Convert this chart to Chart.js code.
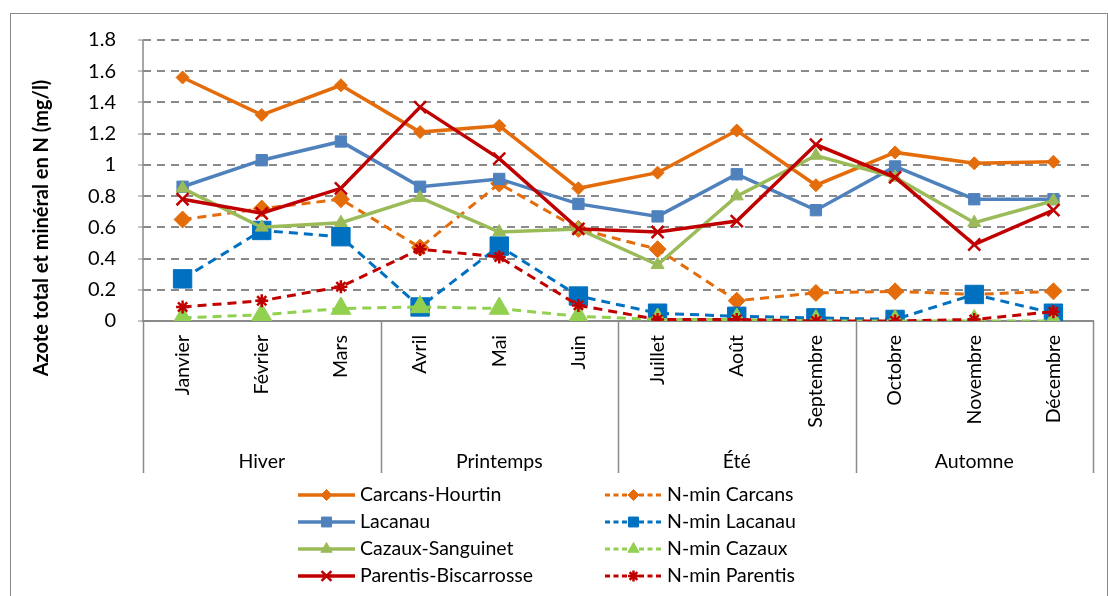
<!DOCTYPE html>
<html>
<head>
<meta charset="utf-8">
<script src="https://cdn.jsdelivr.net/npm/chart.js@4.4.1/dist/chart.umd.min.js"></script>
<style>
  html, body { margin: 0; padding: 0; background: #fff; overflow: hidden; }
</style>
</head>
<body>
<canvas id="myChart" width="1108" height="596"></canvas>
<script>
const ctx = document.getElementById('myChart');

// months, seasons (groups of 3 months)
const months = ['Janvier', 'Février', 'Mars', 'Avril', 'Mai', 'Juin', 'Juillet', 'Août', 'Septembre', 'Octobre', 'Novembre', 'Décembre'];
const seasons = ['Hiver', 'Printemps', 'Été', 'Automne'];
const yMin = 0, yMax = 1.8, yStep = 0.2;

// total nitrogen (mg/l)
const carcansHourtin = [1.56, 1.32, 1.51, 1.21, 1.25, 0.85, 0.95, 1.22, 0.87, 1.08, 1.01, 1.02];
const lacanau = [0.86, 1.03, 1.15, 0.86, 0.91, 0.75, 0.67, 0.94, 0.71, 0.99, 0.78, 0.78];
const cazauxSanguinet = [0.85, 0.60, 0.63, 0.79, 0.57, 0.59, 0.36, 0.80, 1.06, 0.92, 0.63, 0.77];
const parentisBiscarrosse = [0.78, 0.69, 0.85, 1.37, 1.04, 0.59, 0.57, 0.64, 1.13, 0.92, 0.49, 0.71];
// mineral nitrogen (mg/l)
const nminCarcans = [0.65, 0.72, 0.78, 0.47, 0.88, 0.59, 0.46, 0.13, 0.18, 0.19, 0.17, 0.19];
const nminLacanau = [0.27, 0.58, 0.54, 0.09, 0.48, 0.16, 0.05, 0.03, 0.02, 0.01, 0.17, 0.05];
const nminCazaux = [0.02, 0.04, 0.08, 0.09, 0.08, 0.03, 0.01, 0.01, 0.0, 0.0, 0.0, 0.0];
const nminParentis = [0.09, 0.13, 0.22, 0.46, 0.41, 0.10, 0.01, 0.01, 0.0, 0.0, 0.01, 0.06];

const fontFamily = 'Lato, "Liberation Sans", sans-serif';
const font = { family: fontFamily, size: 19.5 };
const gridGrey = '#8a8a8a';

function makeSeries(label, data, color, dashed, style, radius, legendRadius) {
  const strokeOnly = style === 'crossRot' || style === 'star';
  return {
    label: label,
    data: data,
    borderColor: color,
    backgroundColor: color,
    pointBackgroundColor: color,
    pointBorderColor: color,
    borderWidth: dashed ? 3 : 3.5,
    borderDash: dashed ? [9, 6] : [],
    pointStyle: style,
    pointRadius: radius,
    pointHoverRadius: radius,
    pointBorderWidth: strokeOnly ? 2.5 : 1,
    legendRadius: legendRadius,
    tension: 0,
    fill: false
  };
}

const datasets = [
  makeSeries('Carcans-Hourtin', carcansHourtin, '#E46C0A', false, 'rectRot', 6.5, 5.5),
  makeSeries('N-min Carcans', nminCarcans, '#E46C0A', true, 'rectRot', 8.5, 5.5),
  makeSeries('Lacanau', lacanau, '#4F81BD', false, 'rect', 8, 7),
  makeSeries('N-min Lacanau', nminLacanau, '#0070C0', true, 'rect', 13, 7),
  makeSeries('Cazaux-Sanguinet', cazauxSanguinet, '#9BBB59', false, 'triangle', 7.5, 6.5),
  makeSeries('N-min Cazaux', nminCazaux, '#92D050', true, 'triangle', 11.5, 6.5),
  makeSeries('Parentis-Biscarrosse', parentisBiscarrosse, '#C00000', false, 'crossRot', 8.5, 7),
  makeSeries('N-min Parentis', nminParentis, '#C00000', true, 'star', 6.5, 5.5)
];
// later series drawn on top, like the original
datasets.forEach((d, i) => { d.order = datasets.length - i; });

const extras = {
  id: 'extras',
  beforeDraw(chart) {
    const c = chart.ctx;
    c.save();
    c.fillStyle = '#fff';
    c.fillRect(0, 0, chart.width, chart.height);
    c.strokeStyle = '#888';
    c.lineWidth = 1;
    c.strokeRect(10.5, 13.5, 1097, 620);
    c.restore();
  },
  afterDraw(chart) {
    const c = chart.ctx;
    const area = chart.chartArea;
    const x = chart.scales.x;
    const x2 = chart.scales.x2;

    // left axis line and season separators through the category rows
    c.save();
    c.strokeStyle = gridGrey;
    c.lineWidth = 1.5;
    c.beginPath();
    c.moveTo(area.left, area.top);
    c.lineTo(area.left, area.bottom);
    c.stroke();
    for (let i = 0; i <= months.length; i += 3) {
      const px = Math.round(x.getPixelForValue(i - 0.5)) + 0.5;
      c.beginPath();
      c.moveTo(px, area.bottom);
      c.lineTo(px, x2.bottom);
      c.stroke();
    }
    c.restore();

    // y axis title
    c.save();
    c.translate(42, area.top + 188);
    c.rotate(-Math.PI / 2);
    c.fillStyle = '#000';
    c.font = 'bold 20px ' + fontFamily;
    c.textAlign = 'center';
    c.textBaseline = 'middle';
    c.fillText('Azote total et minéral en N (mg/l)', 0, 0);
    c.restore();

    // legend, two columns
    const colX = [298, 605];
    const rowY = 495, rowH = 27, sample = 57;
    chart.data.datasets.forEach((ds, i) => {
      const x0 = colX[i % 2];
      const y0 = rowY + Math.floor(i / 2) * rowH;
      c.save();
      c.strokeStyle = ds.borderColor;
      c.fillStyle = ds.borderColor;
      c.lineWidth = ds.borderWidth;
      c.setLineDash(ds.borderDash.length ? [5, 3.5] : []);
      c.beginPath();
      c.moveTo(x0, y0);
      c.lineTo(x0 + sample, y0);
      c.stroke();
      c.setLineDash([]);
      c.lineWidth = ds.pointBorderWidth;
      Chart.helpers.drawPoint(c, {
        pointStyle: ds.pointStyle,
        rotation: 0,
        radius: ds.legendRadius,
        borderWidth: ds.pointBorderWidth
      }, x0 + sample / 2, y0);
      c.fillStyle = '#000';
      c.font = font.size + 'px ' + fontFamily;
      c.textAlign = 'left';
      c.textBaseline = 'middle';
      c.fillText(ds.label, x0 + sample + 5, y0);
      c.restore();
    });
  }
};

new Chart(ctx, {
  type: 'line',
  data: {
    labels: months,
    datasets: datasets
  },
  options: {
    responsive: false,
    animation: false,
    devicePixelRatio: 1,
    layout: { padding: { top: 40, right: 15, bottom: 123, left: 0 } },
    plugins: {
      legend: { display: false },
      tooltip: { enabled: false }
    },
    scales: {
      x: {
        type: 'category',
        position: 'bottom',
        weight: 0,
        offset: true,
        grid: { display: false, drawTicks: false },
        border: { display: true, color: gridGrey, width: 2 },
        ticks: { minRotation: 90, maxRotation: 90, autoSkip: false, padding: 14, color: '#000', font: font },
        afterFit: s => { s.height = 122; }
      },
      x2: {
        type: 'category',
        labels: seasons,
        position: 'bottom',
        weight: 1,
        offset: true,
        grid: { display: false, drawTicks: false },
        border: { display: false },
        ticks: { padding: 7, color: '#000', font: font },
        afterFit: s => { s.height = 30; }
      },
      y: {
        min: yMin,
        max: yMax,
        ticks: {
          stepSize: yStep,
          padding: 22,
          color: '#000',
          font: { family: fontFamily, size: 20 },
          callback: v => String(+v.toFixed(1))
        },
        grid: {
          color: c => c.tick && c.tick.value === 0 ? 'rgba(0,0,0,0)' : gridGrey,
          lineWidth: 2,
          tickBorderDash: [],
          tickLength: 5,
          tickColor: gridGrey,
          tickWidth: 1
        },
        border: { display: false, dash: [8, 6] },
        afterFit: s => { s.width = 143; }
      }
    }
  },
  plugins: [extras]
});
</script>
</body>
</html>
